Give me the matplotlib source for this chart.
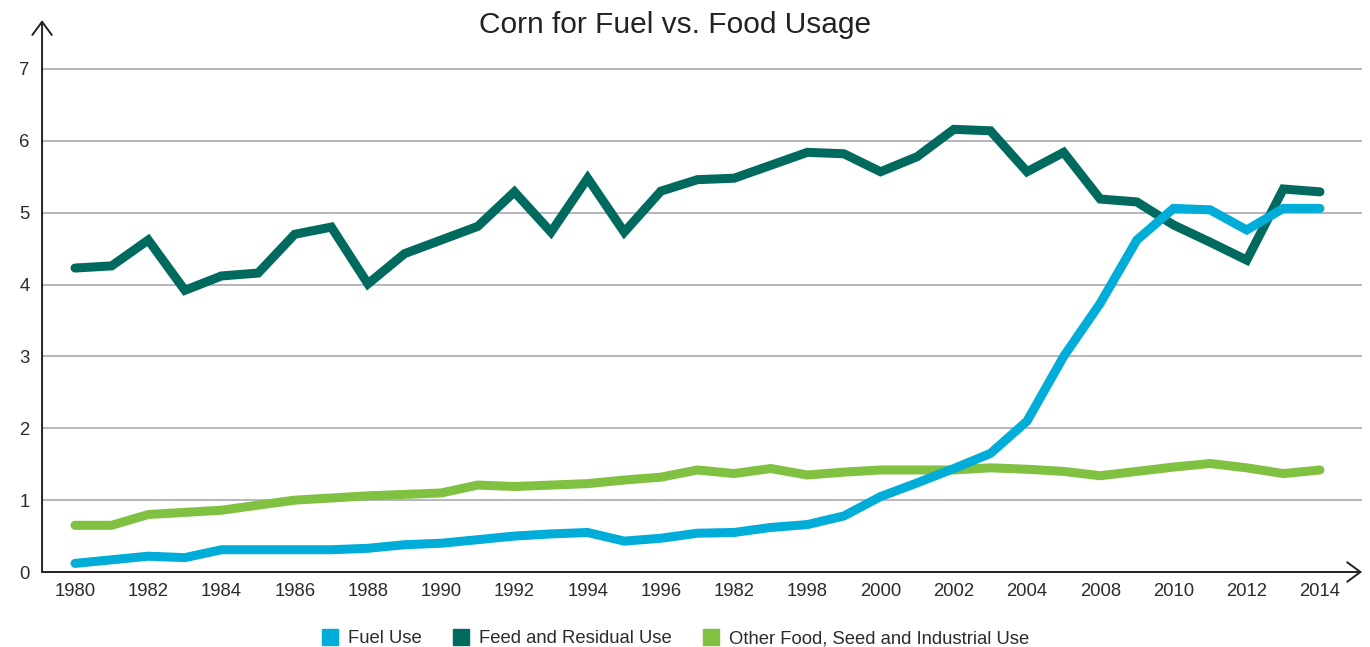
import matplotlib
matplotlib.use("Agg")
import matplotlib.pyplot as plt
from matplotlib.lines import Line2D

# values (billion bushels)
years = list(range(1980, 2015))
tick_labels = ["1980", "1982", "1984", "1986", "1988", "1990", "1992", "1994", "1996",
               "1982", "1998", "2000", "2002", "2004", "2008", "2010", "2012", "2014"]

fuel_use = [0.12, 0.17, 0.22, 0.20, 0.31, 0.31, 0.31, 0.31, 0.33, 0.38,
            0.40, 0.45, 0.50, 0.53, 0.55, 0.43, 0.47, 0.54, 0.55, 0.62,
            0.66, 0.78, 1.05, 1.24, 1.44, 1.65, 2.10, 3.00, 3.74, 4.62,
            5.06, 5.04, 4.76, 5.06, 5.06]
feed_use = [4.23, 4.26, 4.62, 3.92, 4.12, 4.16, 4.70, 4.80, 4.01, 4.43,
            4.62, 4.81, 5.29, 4.73, 5.48, 4.73, 5.30, 5.46, 5.48, 5.66,
            5.84, 5.82, 5.57, 5.78, 6.16, 6.14, 5.57, 5.84, 5.19, 5.15,
            4.83, 4.59, 4.34, 5.33, 5.29]
other_use = [0.65, 0.65, 0.80, 0.83, 0.86, 0.93, 1.00, 1.03, 1.06, 1.08,
             1.10, 1.21, 1.19, 1.21, 1.23, 1.28, 1.32, 1.42, 1.37, 1.44,
             1.35, 1.39, 1.42, 1.42, 1.42, 1.45, 1.43, 1.40, 1.34, 1.40,
             1.46, 1.51, 1.45, 1.37, 1.42]

series_names = ["Fuel Use", "Feed and Residual Use", "Other Food, Seed and Industrial Use"]
colors = ["#00acd8", "#006a5e", "#80c141"]

plt.rcParams["font.family"] = ["Liberation Sans", "DejaVu Sans"]

fig = plt.figure(figsize=(13.7, 6.47), dpi=100)
ax = fig.add_axes([0.0307, 0.1159, 0.9635, 0.853])

x = list(range(len(years)))
line_kw = dict(lw=6.5, solid_capstyle="round", solid_joinstyle="miter")
ax.plot(x, feed_use, color=colors[1], zorder=3, **line_kw)
ax.plot(x, other_use, color=colors[2], zorder=3, **line_kw)
ax.plot(x, fuel_use, color=colors[0], zorder=4, **line_kw)

ax.set_xlim(-0.9, 35.15)
ax.set_ylim(0, 7.68)
ax.set_yticks(range(0, 8))
ax.set_xticks(range(0, len(years), 2))
ax.set_xticklabels(tick_labels)
ax.tick_params(axis="both", length=0, labelsize=13.3, colors="#2b2b2b")
ax.tick_params(axis="y", pad=9)
ax.tick_params(axis="x", pad=8)

ax.grid(axis="y", color="#b0b0b6", lw=1.3, zorder=1)
ax.set_axisbelow(True)
for s in ax.spines.values():
    s.set_visible(False)

# axis lines with open arrow heads
arrow = dict(arrowstyle="->,head_length=0.95,head_width=0.7", lw=1.4,
             color="#222222", shrinkA=0, shrinkB=0)
ax.annotate("", xy=(0, 1), xycoords="axes fraction", xytext=(0, 0),
            textcoords="axes fraction", arrowprops=arrow, annotation_clip=False)
ax.annotate("", xy=(1, 0), xycoords="axes fraction", xytext=(0, 0),
            textcoords="axes fraction", arrowprops=arrow, annotation_clip=False)

fig.text(0.4927, 0.962, "Corn for Fuel vs. Food Usage", ha="center", va="center",
         fontsize=21.5, color="#222222")

handles = [Line2D([], [], marker="s", ls="none", markersize=11, color=c) for c in colors]
fig.legend(handles, series_names, loc="center", bbox_to_anchor=(0.4927, 0.013),
           ncol=3, frameon=False, fontsize=13.3, handlelength=1.0,
           handletextpad=0.5, columnspacing=1.6, labelcolor="#2b2b2b")

fig.savefig("out.png", dpi=100)
